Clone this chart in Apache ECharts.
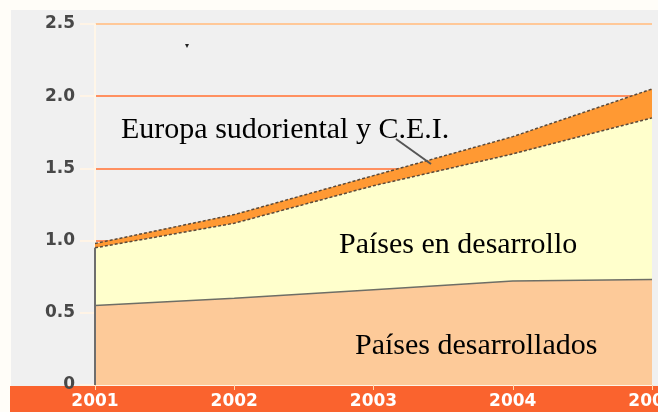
<!DOCTYPE html>
<html>
<head>
<meta charset="utf-8">
<script src="https://cdn.jsdelivr.net/npm/echarts@6/dist/echarts.min.js"></script>
<style>html,body{margin:0;padding:0;background:#fff;}#c{width:658px;height:412px;}</style>
</head>
<body>
<div id="c"></div>
<script>
var years = ['2001', '2002', '2003', '2004', '2005'];
var desarrollados = [0.55, 0.60, 0.66, 0.72, 0.73];
var enDesarrollo = [0.40, 0.52, 0.72, 0.88, 1.12];
var europaCEI = [0.03, 0.06, 0.07, 0.12, 0.20];
var yTicks = [0, 0.5, 1.0, 1.5, 2.0, 2.5];

var chart = echarts.init(document.getElementById('c'));
var gridColors = ['#ff9060', '#ff9060', '#ff9060', '#ff9060', '#ff9060', '#ffc898'];
chart.setOption({
  animation: false,
  backgroundColor: '#fffdf8',
  grid: { left: 95, right: 6, top: 24, bottom: 27, containLabel: false, outerBoundsMode: 'none' },
  graphic: [
    { type: 'rect', z: -10, shape: { x: 11, y: 10, width: 647, height: 376 }, style: { fill: '#f0f0f0' } },
    { type: 'rect', z: -10, shape: { x: 10, y: 386, width: 648, height: 26 }, style: { fill: '#fa632e' } },
    { type: 'text', z: 100, left: 121, top: 115, style: { text: 'Europa sudoriental y C.E.I.', font: '30px "Liberation Serif"', fill: '#000' } },
    { type: 'line', z: 100, shape: { x1: 396, y1: 139, x2: 431, y2: 164 }, style: { stroke: '#555', lineWidth: 2 } },
    { type: 'text', z: 100, left: 339, top: 230, style: { text: 'Países en desarrollo', font: '30px "Liberation Serif"', fill: '#000' } },
    { type: 'text', z: 100, left: 355, top: 331, style: { text: 'Países desarrollados', font: '30px "Liberation Serif"', fill: '#000' } },
    { type: 'text', z: 100, left: 185, top: 42, style: { text: '▾', font: '8px sans-serif', fill: '#222' } }
  ],
  xAxis: {
    type: 'category',
    data: years,
    boundaryGap: false,
    axisLine: { show: true, lineStyle: { color: '#fff4e6', width: 2 } },
    axisTick: { show: true, length: 5, lineStyle: { color: '#ffd9b0' } },
    axisLabel: { color: '#fff', fontSize: 17, fontWeight: 'bold', fontFamily: 'DejaVu Sans', margin: 8, hideOverlap: false },
    splitLine: { show: false }
  },
  yAxis: {
    type: 'value',
    min: 0, max: 2.5, interval: 0.5,
    axisLine: { show: true, lineStyle: { color: '#fff6e8', width: 2 } },
    axisTick: { show: true, length: 15, lineStyle: { color: gridColors, width: 2 } },
    axisLabel: {
      color: '#484848', fontSize: 17, fontWeight: 'bold', fontFamily: 'DejaVu Sans', margin: 20,
      formatter: function (v) { return v === 0 ? '0' : v.toFixed(1); }
    },
    splitLine: { show: true, lineStyle: { color: gridColors, width: 2 } }
  },
  series: [
    {
      name: 'Países desarrollados', type: 'line', stack: 's', data: desarrollados,
      symbol: 'none', smooth: false,
      lineStyle: { color: '#6e6e66', width: 1.5 },
      areaStyle: { color: '#fdca99', opacity: 1 },
      markLine: {
        silent: true, symbol: 'none', label: { show: false },
        lineStyle: { color: '#6e6e6e', width: 2, type: 'solid' },
        data: [[{ coord: ['2001', 0] }, { coord: ['2001', desarrollados[0] + enDesarrollo[0]] }]]
      }
    },
    {
      name: 'Países en desarrollo', type: 'line', stack: 's', data: enDesarrollo,
      symbol: 'none',
      lineStyle: { color: '#5a4a3a', width: 1.5, type: [3, 2] },
      areaStyle: { color: '#ffffcc', opacity: 1 }
    },
    {
      name: 'Europa sudoriental y C.E.I.', type: 'line', stack: 's', data: europaCEI,
      symbol: 'none',
      lineStyle: { color: '#5a4a3a', width: 1.5, type: [3, 2] },
      areaStyle: { color: '#ff9933', opacity: 1 }
    }
  ]
});
</script>
</body>
</html>
